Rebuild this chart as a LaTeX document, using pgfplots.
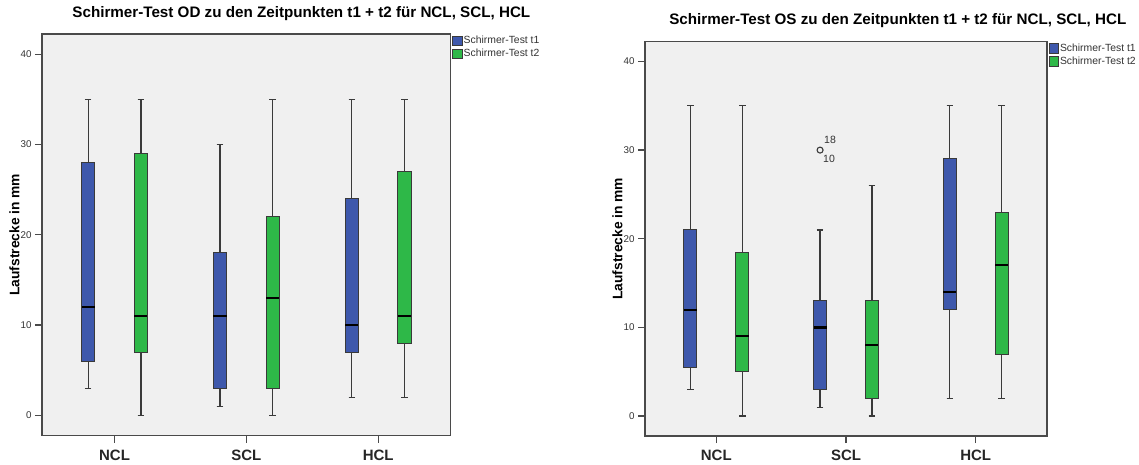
\documentclass[border=0pt]{standalone}
\usepackage{pgfplots}
\pgfplotsset{compat=1.18}
\usepgfplotslibrary{statistics}
\usepackage{fontspec}
\setmainfont{Liberation Sans}
\definecolor{spssblue}{HTML}{3E58AC}
\definecolor{spssgreen}{HTML}{2EB848}
\definecolor{bggrey}{HTML}{F0F0F0}
\definecolor{framegrey}{HTML}{4A4A4A}
\definecolor{boxgrey}{HTML}{3A3A3A}
\definecolor{ticktext}{HTML}{333333}

\pgfplotsset{
  spss/.style={
    scale only axis,
    xmin=0.45, xmax=3.55, ymin=-2.25, ymax=42.25,
    axis background/.style={fill=bggrey},
    axis line style={draw=framegrey, line width=1.3pt},
    xtick={1,2,3}, xticklabels={NCL,SCL,HCL},
    ytick={0,10,20,30,40},
    tick pos=left, tick align=outside,
    major tick length=7pt,
    every tick/.style={draw=framegrey, line width=1.3pt},
    xticklabel style={font=\fontsize{15}{18}\selectfont\bfseries, text=black!85, yshift=-3.5pt},
    yticklabel style={font=\fontsize{9.8}{11}\selectfont, text=ticktext},
    /pgf/number format/assume math mode=true,
    ylabel={Laufstrecke in mm},
    boxplot/every median/.style={draw=black, line width=2.2pt},
    boxplot/every whisker/.style={draw=boxgrey, line width=1.25pt},
    boxplot/draw direction=y,
    legend style={draw=none, fill=none, font=\fontsize{10.4}{12}\selectfont,
      inner sep=0pt, row sep=2pt, anchor=north west,
      nodes={inner sep=1pt, text=ticktext}},
    legend image code/.code={\draw[#1] (0pt,-4.8pt) rectangle (9.3pt,4.8pt);},
  },
  bt1/.style={fill=spssblue, draw=boxgrey, line width=1pt},
  bt2/.style={fill=spssgreen, draw=boxgrey, line width=1pt},
}

\begin{document}
\begin{tikzpicture}
\path[fill=white, use as bounding box] (0,0) rectangle (1139pt,464pt);

% ---------------- left: OD ----------------
\begin{axis}[spss,
  at={(42pt,28.5pt)}, anchor=south west,
  width=408.7pt, height=401.5pt,
  title={Schirmer-Test OD zu den Zeitpunkten t1 + t2 für NCL, SCL, HCL},
  title style={at={(axis description cs:0.6346,1.0249)}, anchor=base,
    font=\fontsize{15.2}{18}\selectfont\bfseries},
  every axis y label/.style={at={(axis description cs:-0.0673,0.5)}, rotate=90,
    anchor=center, font=\fontsize{13.8}{16}\selectfont\bfseries},
  legend style={at={(axis description cs:1,1)}, xshift=1.5pt, yshift=-1.2pt},
]
\addplot[bt1, forget plot, boxplot prepared={draw position=0.8, lower whisker=3, lower quartile=6, median=12, upper quartile=28, upper whisker=35, box extend=0.1, whisker extend=0.05}] coordinates {};
\addplot[bt2, forget plot, boxplot prepared={draw position=1.2, lower whisker=0, lower quartile=7, median=11, upper quartile=29, upper whisker=35, box extend=0.1, whisker extend=0.05}] coordinates {};
\addplot[bt1, forget plot, boxplot prepared={draw position=1.8, lower whisker=1, lower quartile=3, median=11, upper quartile=18, upper whisker=30, box extend=0.1, whisker extend=0.05}] coordinates {};
\addplot[bt2, forget plot, boxplot prepared={draw position=2.2, lower whisker=0, lower quartile=3, median=13, upper quartile=22, upper whisker=35, box extend=0.1, whisker extend=0.05}] coordinates {};
\addplot[bt1, forget plot, boxplot prepared={draw position=2.8, lower whisker=2, lower quartile=7, median=10, upper quartile=24, upper whisker=35, box extend=0.1, whisker extend=0.05}] coordinates {};
\addplot[bt2, forget plot, boxplot prepared={draw position=3.2, lower whisker=2, lower quartile=8, median=11, upper quartile=27, upper whisker=35, box extend=0.1, whisker extend=0.05}] coordinates {};
\addlegendimage{fill=spssblue, draw=boxgrey, line width=1pt}
\addlegendentry{Schirmer-Test t1}
\addlegendimage{fill=spssgreen, draw=boxgrey, line width=1pt}
\addlegendentry{Schirmer-Test t2}
\end{axis}

% ---------------- right: OS ----------------
\begin{axis}[spss,
  at={(645pt,28pt)}, anchor=south west,
  width=402pt, height=394.5pt,
  title={Schirmer-Test OS zu den Zeitpunkten t1 + t2 für NCL, SCL, HCL},
  title style={at={(axis description cs:0.629,1.0274)}, anchor=base,
    font=\fontsize{15.2}{18}\selectfont\bfseries},
  every axis y label/.style={at={(axis description cs:-0.0684,0.5)}, rotate=90,
    anchor=center, font=\fontsize{13.8}{16}\selectfont\bfseries},
  legend style={at={(axis description cs:1,1)}, xshift=1.5pt, yshift=-1.2pt},
]
\addplot[bt1, forget plot, boxplot prepared={draw position=0.8, lower whisker=3, lower quartile=5.5, median=12, upper quartile=21, upper whisker=35, box extend=0.1, whisker extend=0.05}] coordinates {};
\addplot[bt2, forget plot, boxplot prepared={draw position=1.2, lower whisker=0, lower quartile=5, median=9, upper quartile=18.5, upper whisker=35, box extend=0.1, whisker extend=0.05}] coordinates {};
\addplot[bt1, forget plot, boxplot prepared={draw position=1.8, lower whisker=1, lower quartile=3, median=10, upper quartile=13, upper whisker=21, box extend=0.1, whisker extend=0.05}] coordinates {};
\addplot[bt2, forget plot, boxplot prepared={draw position=2.2, lower whisker=0, lower quartile=2, median=8, upper quartile=13, upper whisker=26, box extend=0.1, whisker extend=0.05}] coordinates {};
\addplot[bt1, forget plot, boxplot prepared={draw position=2.8, lower whisker=2, lower quartile=12, median=14, upper quartile=29, upper whisker=35, box extend=0.1, whisker extend=0.05}] coordinates {};
\addplot[bt2, forget plot, boxplot prepared={draw position=3.2, lower whisker=2, lower quartile=7, median=17, upper quartile=23, upper whisker=35, box extend=0.1, whisker extend=0.05}] coordinates {};
% outlier
\addplot[forget plot, only marks, mark=o, mark size=3pt, mark options={draw=boxgrey, line width=1.1pt}] coordinates {(1.8,30)};
\node[font=\fontsize{10.5}{12}\selectfont, text=ticktext, xshift=10pt, yshift=10pt] at (axis cs:1.8,30) {18};
\node[font=\fontsize{10.5}{12}\selectfont, text=ticktext, xshift=9pt, yshift=-9pt] at (axis cs:1.8,30) {10};
\addlegendimage{fill=spssblue, draw=boxgrey, line width=1pt}
\addlegendentry{Schirmer-Test t1}
\addlegendimage{fill=spssgreen, draw=boxgrey, line width=1pt}
\addlegendentry{Schirmer-Test t2}
\end{axis}
\end{tikzpicture}
\end{document}
